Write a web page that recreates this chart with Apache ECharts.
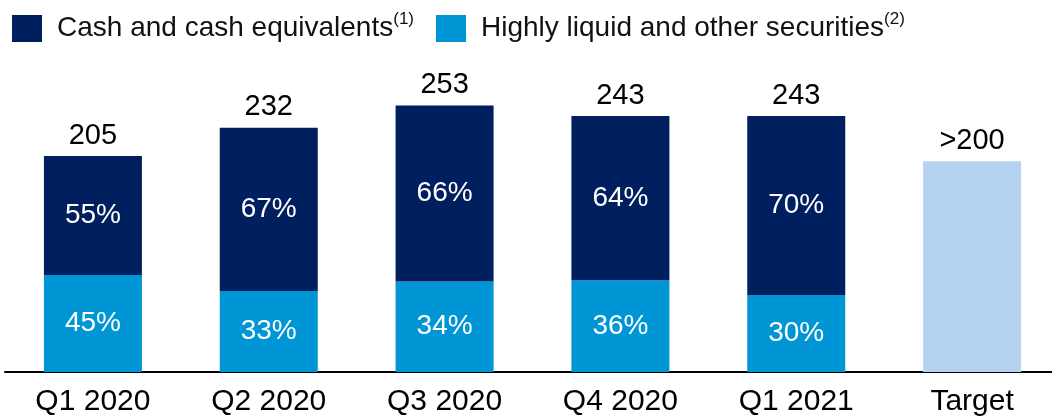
<!DOCTYPE html>
<html>
<head>
<meta charset="utf-8">
<script src="https://cdn.jsdelivr.net/npm/echarts@6/dist/echarts.min.js"></script>
<style>
  html, body { margin: 0; padding: 0; background: #fff; overflow: hidden; }
  #main { width: 1064px; height: 417px; }
</style>
</head>
<body>
<div id="main"></div>
<script>
// chart data
const quarters = ['Q1 2020', 'Q2 2020', 'Q3 2020', 'Q4 2020', 'Q1 2021', 'Target'];
const cashVals = [113, 155, 167, 156, 170];
const secVals = [92, 77, 86, 87, 73];
const totals = [205, 232, 253, 243, 243];
const cashPct = ['55%', '67%', '66%', '64%', '70%'];
const secPct = ['45%', '33%', '34%', '36%', '30%'];
const targetVal = 200;
const targetLabel = '>200';

const navy = '#001F5F';
const blue = '#0095D4';
const pale = '#B5D3F0';
const font = 'Liberation Sans, Arial, sans-serif';

let myChart = echarts.init(document.getElementById('main'));

let secData = secVals.map((v, i) => ({
  value: v,
  label: { formatter: secPct[i] }
}));
secData.push({
  value: targetVal,
  itemStyle: { color: pale },
  label: { position: 'top', distance: 6, color: '#000', fontSize: 29, formatter: targetLabel }
});

let cashData = cashVals.map((v, i) => ({ value: v }));
cashData.push('-');

myChart.setOption({
  animation: false,
  textStyle: { fontFamily: font },
  legend: {
    left: 7,
    top: 6,
    itemWidth: 30,
    itemHeight: 27,
    itemGap: 22,
    icon: 'rect',
    textStyle: {
      fontFamily: font,
      fontSize: 28,
      color: '#111',
      padding: [0, 0, 0, 10],
      rich: {
        a: { fontSize: 28, fontFamily: font, color: '#111' },
        s: { fontSize: 17, fontFamily: font, color: '#111', verticalAlign: 'top', padding: [0, 0, 18, 0] }
      }
    },
    formatter: function (name) {
      if (name === 'Cash and cash equivalents') return '{a|' + name + '}{s|(1)}';
      return '{a|' + name + '}{s|(2)}';
    },
    data: ['Cash and cash equivalents', 'Highly liquid and other securities']
  },
  grid: {
    left: 5,
    width: 1055,
    top: 56,
    bottom: 42
  },
  xAxis: {
    type: 'category',
    data: quarters,
    axisLine: { lineStyle: { color: '#000', width: 2 } },
    axisTick: { show: false },
    axisLabel: { color: '#000', fontSize: 30, margin: 15, fontFamily: font }
  },
  yAxis: {
    type: 'value',
    min: 0,
    max: 300,
    show: false,
    splitLine: { show: false }
  },
  series: [
    {
      name: 'Highly liquid and other securities',
      type: 'bar',
      stack: 'total',
      barWidth: 98,
      itemStyle: { color: blue },
      label: { show: true, position: 'inside', color: '#fff', fontSize: 28, fontFamily: font },
      data: secData
    },
    {
      name: 'Cash and cash equivalents',
      type: 'bar',
      stack: 'total',
      barWidth: 98,
      itemStyle: { color: navy },
      label: {
        show: true,
        position: 'inside',
        color: '#fff',
        fontSize: 28,
        fontFamily: font,
        formatter: p => cashPct[p.dataIndex]
      },
      data: cashData
    },
    {
      // totals above the stacked bars
      name: 'totals',
      type: 'bar',
      stack: 'total',
      barWidth: 98,
      itemStyle: { color: 'transparent' },
      label: {
        show: true,
        position: 'insideBottom',
        distance: 6,
        color: '#000',
        fontSize: 29,
        fontFamily: font,
        formatter: p => totals[p.dataIndex]
      },
      tooltip: { show: false },
      data: totals.map(() => 0.001).concat(['-'])
    }
  ]
});
</script>
</body>
</html>
